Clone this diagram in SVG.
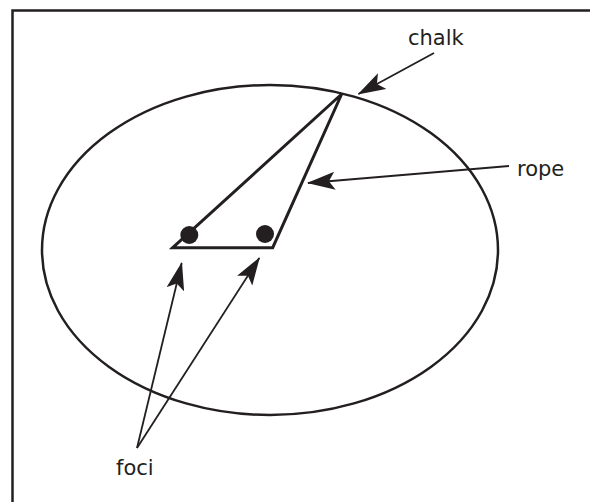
<svg xmlns="http://www.w3.org/2000/svg" width="590" height="502" viewBox="0 0 590 502">
<style>
.lbl{font-family:"DejaVu Sans",sans-serif;font-size:21px;fill:#231f20}
.ln{fill:none;stroke:#231f20}
.arr{fill:none;stroke:#231f20;stroke-width:1.8}
</style>
<defs>
<marker id="ah" viewBox="0 0 28 18" refX="27" refY="9" markerWidth="28" markerHeight="18" markerUnits="userSpaceOnUse" orient="auto">
<path d="M0,0 L28,9 L0,18 L6,9 Z" fill="#231f20"/>
</marker>
</defs>
<rect width="590" height="502" fill="#fff"/>
<g id="frame"><path class="ln" d="M12.5,502 V10.5 H590" stroke-width="2.5" stroke="#000"/></g>
<g id="ellipse"><ellipse class="ln" cx="270" cy="250" rx="228" ry="165" stroke-width="2.5"/></g>
<g id="triangle"><path class="ln" d="M172.7,247.7 L341.7,94 L272.7,247.7 Z" stroke-width="3" stroke-linejoin="miter"/></g>
<g id="focus1"><circle cx="189.3" cy="235" r="9" fill="#231f20"/></g>
<g id="focus2"><circle cx="265" cy="234" r="9" fill="#231f20"/></g>
<g id="connectors">
<line class="arr" x1="434" y1="53" x2="358.5" y2="94" marker-end="url(#ah)"/>
<line class="arr" x1="509" y1="166" x2="308" y2="183" marker-end="url(#ah)"/>
<line class="arr" x1="137" y1="448" x2="181.7" y2="263" marker-end="url(#ah)"/>
<line class="arr" x1="137" y1="448" x2="259.3" y2="258" marker-end="url(#ah)"/>
</g>
<g id="label-chalk"><text class="lbl" x="408" y="45">chalk</text></g>
<g id="label-rope"><text class="lbl" x="517" y="176">rope</text></g>
<g id="label-foci"><text class="lbl" x="116" y="475">foci</text></g>
</svg>
